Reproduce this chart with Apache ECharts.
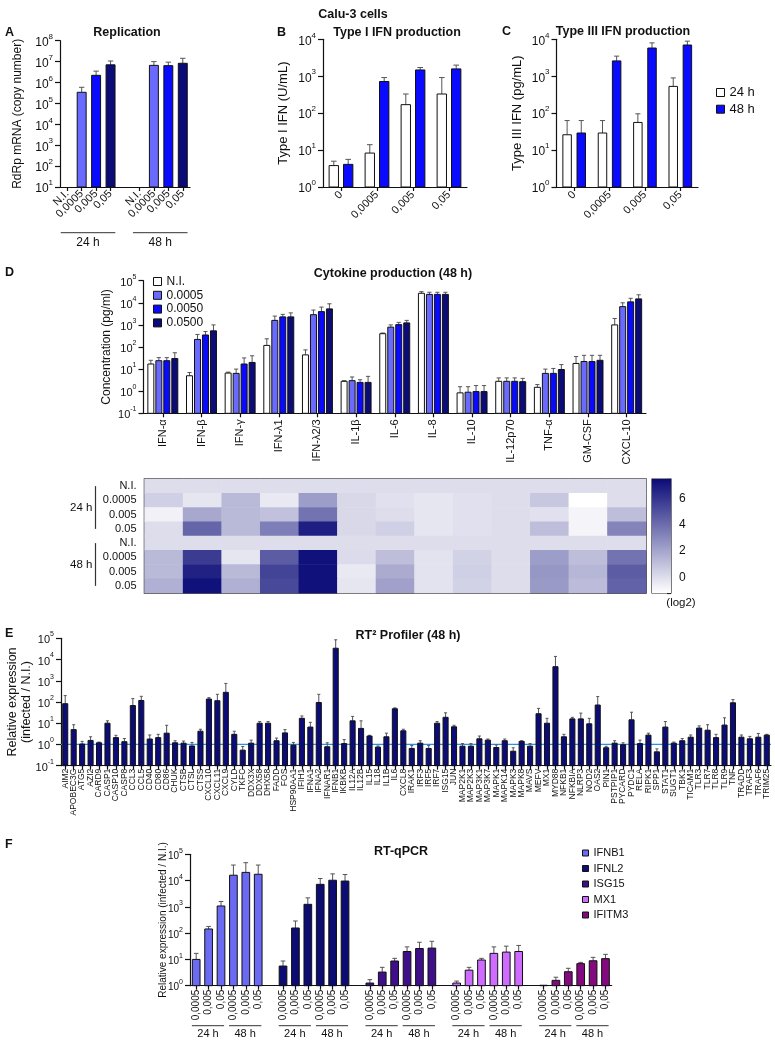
<!DOCTYPE html>
<html><head><meta charset="utf-8">
<script src="https://cdn.jsdelivr.net/npm/echarts@6/dist/echarts.min.js"></script>
<style>html,body{margin:0;padding:0;background:#fff}#c{width:775px;height:1040px}</style>
</head><body><div id="c"></div>
<script>
// ---------------- DATA ----------------
// A: Replication (RdRp copy number)
const aLabels = ['N.I.','0,0005','0,005','0,05','','N.I.','0,0005','0,005','0,05'];
const aTimes  = ['24 h','24 h','24 h','24 h','','48 h','48 h','48 h','48 h'];
const aVals   = [null, 3.4e5, 2.2e6, 7.0e6, null, null, 6.6e6, 6.4e6, 8.3e6];
const aErr    = [null, 5.9e5, 3.5e6, 1.07e7, null, null, 1.0e7, 9.4e6, 1.44e7];
// B: Type I IFN (U/mL)
const bLabels = ['0','0,0005','0,005','0,05'];
const b24 = [3.8, 8.3, 170, 330];
const b24Err = [5.0, 14, 330, 920];
const b48 = [4.1, 720, 1480, 1580];
const b48Err = [5.6, 920, 1720, 2000];
// C: Type III IFN (pg/mL)
const cLabels = ['0','0,0005','0,005','0,05'];
const c24 = [26, 29, 56, 530];
const c24Err = [63, 63, 96, 900];
const c48 = [29, 2600, 5800, 7000];
const c48Err = [63, 3500, 8000, 8900];
// D: cytokines (pg/ml)
const dCats = ['IFN-α','IFN-β','IFN-γ','IFN-λ1','IFN-λ2/3','IL-1β','IL-6','IL-8','IL-10','IL-12p70','TNF-α','GM-CSF','CXCL-10'];
const dNI      = [17, 5, 6.6, 118, 44, 2.8, 400, 27000, 0.84, 2.8, 1.5, 18, 1000];
const dNIErr   = [25, 7, 7.3, 235, 74, 3.0, 430, 32000, 1.6, 4.0, 2.0, 37, 1950];
const d0005    = [24, 220, 6.4, 1600, 2900, 3.0, 790, 24000, 0.9, 2.8, 6.4, 22, 6700];
const d0005Err = [33, 370, 10, 2500, 4700, 4.4, 1000, 30000, 1.6, 4.0, 10, 42, 10000];
const d0050    = [24, 350, 17, 2300, 4000, 2.5, 1030, 24000, 0.96, 2.8, 6.4, 22, 11000];
const d0050Err = [33, 500, 32, 3000, 6400, 3.3, 1300, 30000, 1.8, 4.0, 10.7, 42, 16000];
const d0500    = [30, 540, 20, 2300, 5300, 2.5, 1230, 24000, 0.96, 2.7, 9.6, 25, 15000];
const d0500Err = [55, 1000, 40, 3500, 9000, 4.7, 1600, 30000, 1.8, 3.8, 16, 42, 23000];
// D heatmap (log2)
const hRowLabels = ['N.I.','0.0005','0.005','0.05','N.I.','0.0005','0.005','0.05'];
const hRowTimes  = ['24 h','24 h','24 h','24 h','48 h','48 h','48 h','48 h'];
const h24NI = [0,0,0,0,0,0,0,0,0,0,0,0,0];
const h24a  = [0.5,-0.3,1.3,-0.4,2.3,0.2,-0.1,-0.3,-0.1,0,0.8,-1.2,0];
const h24b  = [-0.7,1.9,1.3,1.0,3.8,0.2,0,-0.3,-0.1,0,-0.1,-0.8,1.1];
const h24c  = [0,4.3,1.3,3.4,6.8,0.2,0.5,-0.3,-0.1,0,1.1,-0.8,3.2];
const h48NI = [0,0,0,0,0,0,0,0,0,0,0,0,0];
const h48a  = [1.3,5.8,-0.3,4.6,7.3,0.1,1.1,-0.2,0.4,0,2.3,1.1,3.8];
const h48b  = [1.3,6.7,1.3,5.5,7.3,-0.4,1.8,-0.2,0.5,0,2.5,1.4,4.6];
const h48c  = [1.6,7.3,1.6,5.3,7.3,-0.3,2.2,-0.2,0.4,0,2.4,1.2,4.4];
// E: RT2 profiler
const eGenes = ['AIM2','APOBEC3G','ATG5','AZI2','CARD9','CASP1','CASP10','CASP8','CCL3','CCL5','CD40','CD80','CD86','CHUK','CTSB','CTSL','CTSS','CXCL10','CXCL11','CXCL9','CYLD','TKFC','DDX3X','DDX58','DHX58','FADD','FOS','HSP90AA1','IFIH1','IFNA1','IFNA2','IFNAR1','IFNB1','IKBKB','IL12A','IL12B','IL15','IL18','IL1B','IL6','CXCL8','IRAK1','IRF3','IRF5','IRF7','ISG15','JUN','MAP2K1','MAP2K3','MAP3K1','MAP3K7','MAPK1','MAPK14','MAPK3','MAPK8','MAVS','MEFV','MX1','MYD88','NFKB1','NFKBIA','NLRP3','NOD2','OAS2','PIN1','PSTPIP1','PYCARD','PYDC1','RELA','RIPK1','SPP1','STAT1','SUGT1','TBK1','TICAM1','TLR3','TLR7','TLR8','TLR9','TNF','TRADD','TRAF3','TRAF6','TRIM25'];
const eVals = [83,5,1.05,1.55,1.2,10,2.1,1.35,68,118,1.8,2.1,3.4,1.2,1.15,0.85,4.2,138,115,285,3,0.54,1.15,10,10,1.5,3.5,0.93,17,6.6,95,0.78,34000,1.1,13,5.7,2.5,0.75,2.3,48,4.4,0.65,1.15,0.65,10,19,6.8,0.83,0.83,1.85,1.6,0.72,1.5,0.48,1.4,0.83,28,10,4600,2.3,16,16,9.4,72,0.7,1.15,0.97,14.5,1.1,2.75,0.45,6.6,1.15,1.5,2.2,5.9,4.7,2.1,8.2,92,2.2,1.85,2.2,2.75];
const eErr  = [200,8.5,1.4,2.3,1.3,13,2.7,1.9,145,185,2.8,3.0,8,1.5,1.45,1.25,5.2,160,230,750,4.2,0.8,1.6,12,12,2,5,1.25,22,11,230,1.2,85000,1.7,21,13,2.7,0.85,3.4,53,5.2,0.9,1.5,0.9,12,31,8,1.1,1.1,2.5,1.8,0.95,1.8,0.7,1.5,1.1,50,17,14000,3,19,30,17,180,0.82,1.5,1.2,33,1.6,3.4,0.62,12,1.3,1.9,2.8,7.5,8.5,3,18,130,2.8,2.4,3.3,3];
// F: RT-qPCR
const fGenes = ['IFNB1','IFNL2','ISG15','MX1','IFITM3'];
const fDoses = ['0,0005','0,005','0,05','0,0005','0,005','0,05'];
const fTimes = ['24 h','24 h','24 h','48 h','48 h','48 h'];
const fIFNB1 = [10, 144, 1080, 16000, 20500, 17400];
const fIFNB1Err = [17, 180, 1600, 39000, 48000, 39000];
const fIFNL2 = [5.6, 157, 1250, 7200, 10300, 9600];
const fIFNL2Err = [8.7, 290, 2200, 12000, 18000, 17000];
const fISG15 = [1.26, 3.3, 8.7, 20, 26, 27];
const fISG15Err = [1.7, 5, 11, 30, 45, 49];
const fMX1 = [1.26, 3.9, 9.5, 17, 19, 20];
const fMX1Err = [1.5, 5, 11, 30, 32, 34];
const fIFITM3 = [1.04, 1.6, 3.4, 6.9, 8.9, 10.7];
const fIFITM3Err = [null, 2.1, 4.6, 7.7, 12, 15.6];

// ---------------- STYLE ----------------
const FONT = '"Liberation Sans", Arial, Helvetica, sans-serif';
const INK = '#111';
const ERR = '#555';
const COL = {white:'#ffffff', light:'#6a6aff', blue:'#0a0aff', navy:'#0c0c78'};
const fColors = ['#6a6af2', '#0c0c72', '#3f0f8a', '#cf6cff', '#820a7e'];

const chart = echarts.init(document.getElementById('c'), null, {renderer:'canvas', width:775, height:1040});

function logLabel(fs, margin) {
  return {
    show:true, color:INK, fontFamily:FONT, fontSize:fs, margin:margin,
    formatter: v => '{b|10}{s|' + Math.round(Math.log10(v)) + '}',
    rich: {
      b: {fontSize:fs, fontFamily:FONT, color:INK, lineHeight:fs + 4, verticalAlign:'bottom'},
      s: {fontSize:Math.round(fs * 0.68), fontFamily:FONT, color:INK, lineHeight:Math.round(fs * 0.65), verticalAlign:'top'}
    }
  };
}
function logAxis(gi, min, max, fs, name, nameGap, nameSize) {
  return {
    type:'log', logBase:10, gridIndex:gi, min:min, max:max,
    axisLine:{show:true, lineStyle:{color:INK, width:1.2}},
    axisTick:{show:true, length:5, lineStyle:{color:INK, width:1.2}},
    minorTick:{show:false}, splitLine:{show:false},
    axisLabel: logLabel(fs, 7),
    name:name, nameLocation:'middle', nameGap:nameGap, nameRotate:90, nameMoveOverlap:false,
    nameTextStyle:{fontFamily:FONT, fontSize:nameSize, color:INK, lineHeight:nameSize + 2}
  };
}
function catAxis(gi, labels, fs, rotate, margin) {
  return {
    type:'category', gridIndex:gi, data:labels.map((_, i) => String(i)), boundaryGap:true,
    axisLine:{show:true, lineStyle:{color:INK, width:1.2}},
    axisTick:{show:true, alignWithLabel:true, length:4, interval:(i) => labels[i] !== '', lineStyle:{color:INK, width:1.2}},
    axisLabel:{interval:0, formatter:(v, i) => labels[i], color:INK, fontFamily:FONT, fontSize:fs, rotate:rotate, margin:margin},
    splitLine:{show:false}
  };
}
function barRender(opt) {
  return function (params, api) {
    const cat = api.value(0), v = api.value(1), e = api.value(2);
    const band = api.size([1, 0])[0];
    const p = api.coord([cat, v]);
    const cs = params.coordSys;
    const base = cs.y + cs.height;
    const cx = p[0] + opt.offset * band;
    const w = opt.width * band;
    const fill = typeof opt.color === 'function' ? opt.color(cat) : opt.color;
    const kids = [];
    if (e != null && !isNaN(e) && e > v) {
      const ey = api.coord([cat, e])[1];
      const cw = w * opt.cap;
      kids.push({type:'line', shape:{x1:cx, y1:p[1], x2:cx, y2:ey}, style:{stroke:ERR, lineWidth:1}});
      kids.push({type:'line', shape:{x1:cx - cw / 2, y1:ey, x2:cx + cw / 2, y2:ey}, style:{stroke:ERR, lineWidth:1}});
    }
    kids.push({type:'rect', shape:{x:cx - w / 2, y:p[1], width:w, height:base - p[1]}, style:{fill:fill, stroke:'#111', lineWidth:1}});
    return {type:'group', children:kids};
  };
}
function toData(vals, errs, idx) {
  const out = [];
  vals.forEach((v, i) => { if (v != null) out.push([idx ? idx(i) : i, v, errs[i] == null ? NaN : errs[i]]); });
  return out;
}
function barSeries(name, gi, vals, errs, color, offset, width, cap, idx) {
  return {
    type:'custom', name:name, xAxisIndex:gi, yAxisIndex:gi,
    data: toData(vals, errs, idx),
    itemStyle:{color: typeof color === 'function' ? '#000' : color, borderColor:'#111', borderWidth:1},
    renderItem: barRender({offset:offset, width:width, cap:cap, color:color}),
    silent:true, z:2
  };
}

// F categories: doses per gene with a blank separator
const fLabels = [], fTimeTags = [];
fGenes.forEach((g, gi) => {
  fDoses.forEach((d, j) => { fLabels.push(d); fTimeTags.push(fTimes[j] + '#' + gi); });
  if (gi < fGenes.length - 1) { fLabels.push(''); fTimeTags.push(''); }
});
const fIndex = gi => (i => gi * (fDoses.length + 1) + i);

// heatmap data
const hRows = [h24NI, h24a, h24b, h24c, h48NI, h48a, h48b, h48c];
const hData = [];
hRows.forEach((row, r) => row.forEach((v, c) => hData.push([c, r, v])));

const aColor = cat => ({'0,0005':COL.light, '0,005':COL.blue, '0,05':COL.navy})[aLabels[cat]];

const grids = [
  {left:60, top:40.7, width:130, height:146.3},
  {left:323, top:39.3, width:144, height:147.7},
  {left:556.5, top:39.3, width:141.5, height:147.7},
  {left:143.5, top:280.7, width:502.5, height:132.6},
  {left:144.5, top:479, width:501.5, height:114, show:true, borderColor:'#222', borderWidth:1.5, backgroundColor:'transparent'},
  {left:652, top:479, width:19, height:114, show:true, borderColor:'#222', borderWidth:1.2, backgroundColor:'transparent'},
  {left:61, top:638.3, width:710, height:127.4},
  {left:190, top:854.3, width:421.7, height:131.4}
].map(g => Object.assign({containLabel:false, outerBoundsMode:'none'}, g));

const hiddenCat = (gi, data) => ({type:'category', gridIndex:gi, data:data, show:true,
  axisLine:{show:false}, axisTick:{show:false}, axisLabel:{show:false}, splitLine:{show:false}});

const heatYAxis = {
  type:'category', gridIndex:4, inverse:true, data:hRowLabels.map((_, i) => String(i)),
  axisLine:{show:false}, axisTick:{show:false}, splitLine:{show:false},
  axisLabel:{interval:0, formatter:(v, i) => hRowLabels[i], fontFamily:FONT, fontSize:11, color:INK, margin:8}
};
const cbYAxis = {
  type:'value', gridIndex:5, position:'right', min:-1.2, max:7.5,
  axisLine:{show:false}, splitLine:{show:false},
  axisTick:{show:true, inside:true, length:4, lineStyle:{color:'#222', width:1.2}},
  axisLabel:{fontFamily:FONT, fontSize:12, color:INK, margin:8,
    formatter: v => (Math.abs(v % 2) < 1e-9 ? String(v) : '')}
};

const xAxes = [
  catAxis(0, aLabels, 11, 45, 5),
  catAxis(1, bLabels, 11, 45, 6),
  catAxis(2, cLabels, 11, 45, 6),
  catAxis(3, dCats, 11, 90, 6),
  hiddenCat(4, dCats.map((_, i) => String(i))),
  hiddenCat(5, ['cb']),
  catAxis(6, eGenes, 8.5, 90, 3),
  catAxis(7, fLabels, 10, 90, 4)
];
const yAxes = [
  logAxis(0, 10, 1e8, 12, 'RdRp mRNA (copy number)', 35, 12),
  logAxis(1, 1, 1e4, 12, 'Type I IFN (U/mL)', 32, 13),
  logAxis(2, 1, 1e4, 12, 'Type III IFN (pg/mL)', 32, 13),
  logAxis(3, 0.1, 1e5, 11, 'Concentration (pg/ml)', 30, 12),
  heatYAxis,
  cbYAxis,
  logAxis(6, 0.1, 1e5, 11, 'Relative expression\n(infected / N.I.)', 27, 12.5),
  logAxis(7, 1, 1e5, 10, 'Relative expression (infected / N.I.)', 21, 10)
];

const series = [
  barSeries('A', 0, aVals, aErr, aColor, 0, 0.62, 0.6),
  barSeries('24 h', 1, b24, b24Err, COL.white, -0.2, 0.26, 0.6),
  barSeries('48 h', 1, b48, b48Err, COL.blue, 0.2, 0.26, 0.6),
  barSeries('24 h', 2, c24, c24Err, COL.white, -0.2, 0.24, 0.6),
  barSeries('48 h', 2, c48, c48Err, COL.blue, 0.2, 0.24, 0.6),
  barSeries('N.I.', 3, dNI, dNIErr, COL.white, -0.31, 0.155, 0.7),
  barSeries('0.0005', 3, d0005, d0005Err, COL.light, -0.103, 0.155, 0.7),
  barSeries('0.0050', 3, d0050, d0050Err, COL.blue, 0.103, 0.155, 0.7),
  barSeries('0.0500', 3, d0500, d0500Err, COL.navy, 0.31, 0.155, 0.7),
  {type:'heatmap', name:'heat', xAxisIndex:4, yAxisIndex:4, data:hData, silent:true,
   itemStyle:{borderWidth:0}, emphasis:{disabled:true}},
  {type:'custom', name:'colorbar', xAxisIndex:5, yAxisIndex:5, data:[[0, 0]], silent:true,
   renderItem:(params, api) => {
     const cs = params.coordSys;
     return {type:'rect', shape:{x:cs.x, y:cs.y, width:cs.width, height:cs.height},
       style:{fill:new echarts.graphic.LinearGradient(0, 0, 0, 1, [{offset:0, color:'#0b0b78'}, {offset:1, color:'#ffffff'}])}};
   }},
  barSeries('RT2', 6, eVals, eErr, COL.navy, 0, 0.6, 0.6)
];
const fSets = [[fIFNB1, fIFNB1Err], [fIFNL2, fIFNL2Err], [fISG15, fISG15Err], [fMX1, fMX1Err], [fIFITM3, fIFITM3Err]];
fSets.forEach((s, gi) => series.push(barSeries(fGenes[gi], 7, s[0], s[1], fColors[gi], 0, 0.62, 0.6, fIndex(gi))));
const heatIndex = 9;

const legendBase = {orient:'vertical', icon:'rect', padding:0, selectedMode:false,
  itemStyle:{borderColor:'#111', borderWidth:1}};
const option = {
  animation:false,
  backgroundColor:'#ffffff',
  textStyle:{fontFamily:FONT},
  grid:grids,
  xAxis:xAxes,
  yAxis:yAxes,
  visualMap:{type:'continuous', show:false, seriesIndex:heatIndex, dimension:2, min:-1.2, max:7.5,
    inRange:{color:['#ffffff', '#0b0b78']}},
  legend:[
    Object.assign({}, legendBase, {data:['24 h', '48 h'], left:716, top:86, itemWidth:8, itemHeight:8, itemGap:3.7,
      textStyle:{fontFamily:FONT, fontSize:13, color:INK}}),
    Object.assign({}, legendBase, {data:['N.I.', '0.0005', '0.0050', '0.0500'], left:153, top:275.5, itemWidth:8, itemHeight:8, itemGap:1.8,
      textStyle:{fontFamily:FONT, fontSize:12, color:INK}}),
    Object.assign({}, legendBase, {data:fGenes, left:582, top:847.5, itemWidth:6, itemHeight:6, itemGap:4.5,
      textStyle:{fontFamily:FONT, fontSize:11, color:INK}})
  ],
  series:series
};
chart.setOption(option);

// ---------- annotations from the library's own scales ----------
function px(gi, x, y) { return chart.convertToPixel({gridIndex:gi}, [x, y]); }
function runs(tags) {
  const out = []; let start = -1;
  for (let i = 0; i <= tags.length; i++) {
    if (i < tags.length && tags[i] !== '' && start >= 0 && tags[i] === tags[start]) continue;
    if (start >= 0) out.push([start, i - 1, tags[start].split('#')[0]]);
    start = (i < tags.length && tags[i] !== '') ? i : -1;
  }
  return out;
}
function txt(x, y, text, size, bold, align) {
  return {type:'text', x:x, y:y, silent:true, style:{text:text, fontFamily:FONT, fontSize:size,
    fontWeight:bold ? 'bold' : 'normal', fill:INK, align:align || 'center', verticalAlign:'middle'}};
}
function line(x1, y1, x2, y2, color, w) {
  return {type:'line', silent:true, shape:{x1:x1, y1:y1, x2:x2, y2:y2}, style:{stroke:color || INK, lineWidth:w || 1}};
}
const g = [];
// titles & panel letters
g.push(txt(353, 15, 'Calu-3 cells', 12.5, true));
g.push(txt(5, 33, 'A', 12.5, true, 'left'), txt(127, 33, 'Replication', 12.5, true));
g.push(txt(277, 33, 'B', 12.5, true, 'left'), txt(397, 33, 'Type I IFN production', 12.5, true));
g.push(txt(502, 32, 'C', 12.5, true, 'left'), txt(623, 32, 'Type III IFN production', 12.5, true));
g.push(txt(5, 273, 'D', 12.5, true, 'left'), txt(393, 274, 'Cytokine production (48 h)', 12.5, true));
g.push(txt(5, 634, 'E', 12.5, true, 'left'), txt(408, 636, 'RT² Profiler (48 h)', 12.5, true));
g.push(txt(5, 845, 'F', 12.5, true, 'left'), txt(401, 852, 'RT-qPCR', 12.5, true));
g.push(txt(681, 603, '(log2)', 11.5, false));
// A group brackets
(function () {
  const y0 = px(0, 0, 10)[1];
  const band = px(0, 1, 10)[0] - px(0, 0, 10)[0];
  runs(aTimes).forEach(r => {
    const x1 = px(0, r[0], 10)[0] - 0.45 * band, x2 = px(0, r[1], 10)[0] + 0.33 * band;
    g.push(line(x1, y0 + 45.7, x2, y0 + 45.7, '#333', 1));
    g.push(txt((x1 + x2) / 2, y0 + 56, r[2], 12, false));
  });
})();
// F group brackets
(function () {
  const y0 = px(7, 0, 1)[1];
  const band = px(7, 1, 1)[0] - px(7, 0, 1)[0];
  runs(fTimeTags).forEach(r => {
    const x1 = px(7, r[0], 1)[0] - 0.35 * band, x2 = px(7, r[1], 1)[0] + 0.25 * band;
    g.push(line(x1, y0 + 40, x2, y0 + 40, '#333', 1));
    g.push(txt((x1 + x2) / 2, y0 + 48.5, r[2], 11, false));
  });
})();
// heatmap time brackets
(function () {
  const gx = px(4, 0, 0)[0];
  const band = px(4, 1, 0)[0] - px(4, 0, 0)[0];
  const lx = gx - band / 2 - 49;
  runs(hRowTimes).forEach(r => {
    const y1 = px(4, 0, r[0])[1], y2 = px(4, 0, r[1])[1];
    g.push(line(lx, y1, lx, y2, '#333', 1.2));
    g.push(txt(lx - 3, (y1 + y2) / 2, r[2], 11.5, false, 'right'));
  });
})();
// E reference line at 1
(function () {
  const band = px(6, 1, 1)[0] - px(6, 0, 1)[0];
  const y = px(6, 0, 1)[1];
  const x1 = px(6, 0, 1)[0] - band / 2, x2 = px(6, eGenes.length - 1, 1)[0] + band / 2;
  const l = line(x1, y, x2, y, '#2a8fe6', 1.3); l.z = 1;
  g.push(l);
})();
chart.setOption({graphic:g});
</script>
</body></html>
